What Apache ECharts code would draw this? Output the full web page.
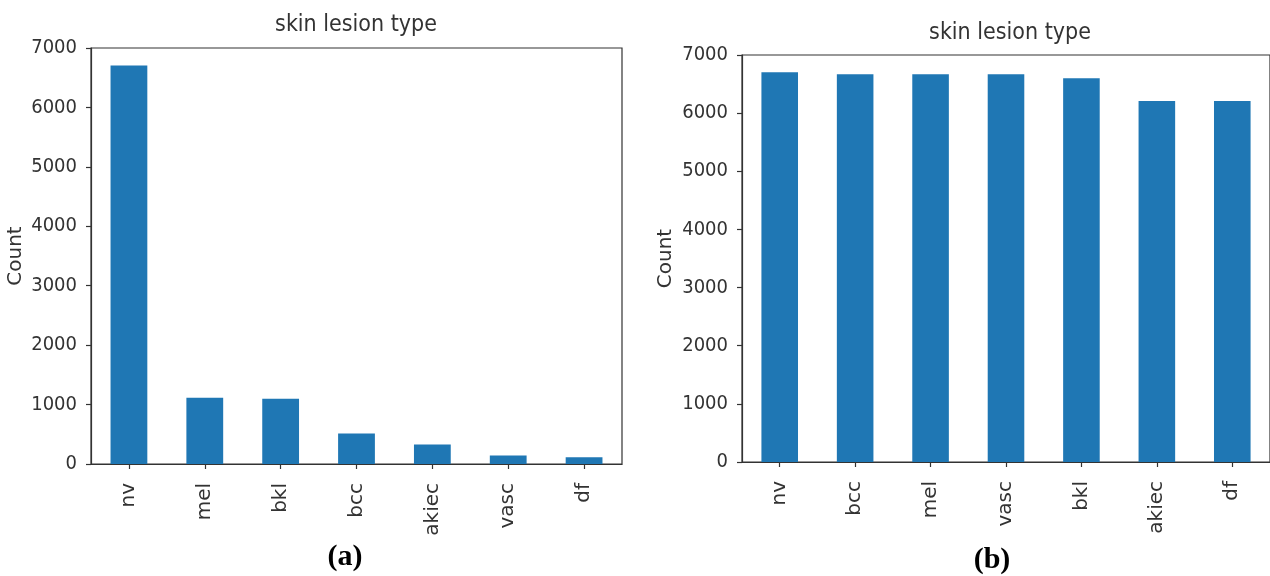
<!DOCTYPE html>
<html>
<head>
<meta charset="utf-8">
<script src="https://cdn.jsdelivr.net/npm/echarts@6/dist/echarts.min.js"></script>
<style>
html,body{margin:0;padding:0;background:#fff;}
#main{width:1270px;height:576px;}
</style>
</head>
<body>
<div id="main"></div>
<script>
const catsA = ['nv','mel','bkl','bcc','akiec','vasc','df'];
const countsA = [6705,1113,1099,514,327,142,115];
const catsB = ['nv','bcc','mel','vasc','bkl','akiec','df'];
const countsB = [6705,6670,6670,6670,6600,6210,6210];
const yMax = 7000;
const yStep = 1000;
const chartTitle = 'skin lesion type';
const yName = 'Count';
const panelLabels = ['(a)','(b)'];

const ink = '#333';
const barColor = '#1f77b4';
const condensed = '"DejaVu Sans Condensed", "DejaVu Sans", sans-serif';
const regular = '"DejaVu Sans", sans-serif';

function xAxisFor(cats, gi){
  return {
    type:'category', gridIndex:gi, data:cats,
    axisLine:{show:true, lineStyle:{color:ink, width:1.2}},
    axisTick:{show:true, alignWithLabel:true, length:5, lineStyle:{color:ink, width:1.2}},
    axisLabel:{rotate:90, margin:19, color:ink, fontFamily:regular, fontSize:20}
  };
}
function yAxisFor(gi, gap){
  return {
    type:'value', gridIndex:gi, min:0, max:yMax, interval:yStep,
    name:yName, nameLocation:'middle', nameRotate:90, nameGap:gap,
    nameTextStyle:{color:ink, fontFamily:regular, fontSize:20},
    axisLine:{show:true, lineStyle:{color:ink, width:1.2}},
    axisTick:{show:true, length:5, lineStyle:{color:ink, width:1.2}},
    axisLabel:{margin:14, color:ink, fontFamily:condensed, fontSize:20, formatter:function(v){return String(v);}},
    splitLine:{show:false}
  };
}

const chart = echarts.init(document.getElementById('main'), null, {renderer:'canvas'});
chart.setOption({
  animation:false,
  backgroundColor:'#fff',
  grid:[
    {left:91, top:48, width:531, height:416, show:true, borderColor:ink, borderWidth:1.2, backgroundColor:'transparent'},
    {left:742, top:55, width:537, height:407, show:true, borderColor:ink, borderWidth:1.2, backgroundColor:'transparent'}
  ],
  xAxis:[xAxisFor(catsA,0), xAxisFor(catsB,1)],
  yAxis:[yAxisFor(0,65), yAxisFor(1,66)],
  series:[
    {type:'bar', xAxisIndex:0, yAxisIndex:0, data:countsA, barWidth:'48.5%', itemStyle:{color:barColor}},
    {type:'bar', xAxisIndex:1, yAxisIndex:1, data:countsB, barWidth:'48.5%', itemStyle:{color:barColor}}
  ],
  graphic:[
    {type:'text', x:356, y:25, style:{text:chartTitle, fill:ink, font:'23px '+condensed, textAlign:'center', textVerticalAlign:'middle'}},
    {type:'text', x:1010, y:33, style:{text:chartTitle, fill:ink, font:'23px '+condensed, textAlign:'center', textVerticalAlign:'middle'}},
    {type:'text', x:345, y:557, style:{text:panelLabels[0], fill:'#000', font:'bold 30px "Liberation Serif", serif', textAlign:'center', textVerticalAlign:'middle'}},
    {type:'text', x:992, y:560, style:{text:panelLabels[1], fill:'#000', font:'bold 30px "Liberation Serif", serif', textAlign:'center', textVerticalAlign:'middle'}}
  ]
});
</script>
</body>
</html>
